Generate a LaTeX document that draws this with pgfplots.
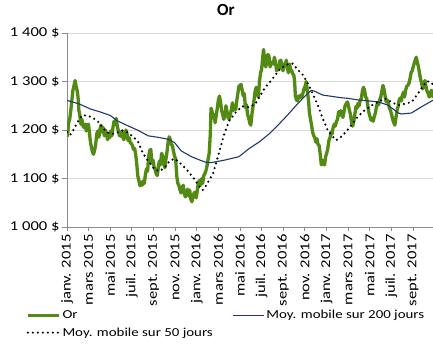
\documentclass[border=0pt]{standalone}
\usepackage{fontspec}
\setmainfont{Carlito}
\newfontfamily\widefont{Carlito}[FakeStretch=1.22]
\usepackage{pgfplots}
\pgfplotsset{compat=1.18}

\definecolor{orgreen}{RGB}{82,138,20}
\definecolor{ma200}{RGB}{31,56,110}
\definecolor{gridgray}{RGB}{217,217,217}
\definecolor{axisgray}{RGB}{140,140,140}
\newcommand\ticksz{\widefont\fontsize{13.6}{16}\selectfont}
\newcommand\legsz{\widefont\fontsize{12.2}{15}\selectfont}

% Gold price (x = months since 1 Jan 2015)
\pgfplotstableread{
m v
0.00 1186
0.08 1195
0.15 1215
0.25 1222
0.35 1240
0.45 1262
0.55 1282
0.65 1292
0.75 1302
0.85 1290
0.95 1280
1.02 1268
1.10 1240
1.18 1232
1.28 1212
1.38 1222
1.48 1208
1.58 1205
1.68 1212
1.78 1198
1.88 1210
1.98 1212
2.05 1200
2.15 1178
2.25 1165
2.35 1155
2.45 1150
2.55 1158
2.65 1170
2.75 1192
2.85 1198
2.95 1185
3.05 1202
3.15 1210
3.25 1196
3.35 1205
3.45 1188
3.55 1200
3.65 1192
3.75 1180
3.85 1192
3.95 1184
4.05 1198
4.15 1188
4.25 1205
4.35 1218
4.45 1212
4.55 1224
4.65 1208
4.75 1198
4.85 1188
4.95 1196
5.05 1186
5.15 1195
5.25 1180
5.35 1186
5.45 1200
5.55 1192
5.65 1178
5.75 1184
5.85 1174
5.95 1172
6.05 1168
6.15 1160
6.25 1162
6.35 1150
6.45 1130
6.55 1105
6.65 1095
6.75 1085
6.85 1092
6.95 1086
7.05 1095
7.15 1090
7.25 1108
7.35 1120
7.45 1115
7.55 1145
7.65 1158
7.75 1160
7.85 1132
7.95 1138
8.05 1125
8.15 1118
8.25 1110
8.35 1106
8.45 1124
8.55 1136
8.65 1128
8.75 1152
8.85 1146
8.95 1130
9.05 1122
9.15 1140
9.25 1155
9.35 1175
9.45 1186
9.55 1180
9.65 1170
9.75 1168
9.85 1156
9.95 1146
10.05 1140
10.15 1105
10.25 1090
10.35 1086
10.45 1076
10.55 1070
10.65 1082
10.75 1086
10.85 1070
10.95 1062
11.05 1068
11.15 1078
11.25 1064
11.35 1076
11.45 1058
11.55 1052
11.65 1062
11.75 1070
11.85 1072
11.95 1060
12.05 1075
12.15 1092
12.25 1096
12.35 1086
12.45 1100
12.55 1090
12.65 1106
12.75 1110
12.85 1116
12.95 1126
13.05 1140
13.15 1152
13.25 1190
13.32 1245
13.40 1240
13.50 1225
13.60 1232
13.70 1215
13.80 1230
13.90 1245
14.00 1262
14.10 1270
14.20 1258
14.30 1240
14.40 1232
14.50 1222
14.60 1230
14.70 1250
14.80 1238
14.90 1226
15.00 1222
15.10 1232
15.20 1242
15.30 1256
15.40 1240
15.50 1250
15.60 1242
15.70 1260
15.80 1275
15.90 1290
16.00 1292
16.10 1294
16.20 1282
16.30 1270
16.40 1275
16.50 1246
16.60 1252
16.70 1232
16.80 1225
16.90 1214
17.00 1210
17.10 1232
17.20 1248
17.30 1262
17.40 1280
17.50 1288
17.60 1275
17.70 1268
17.80 1300
17.90 1318
18.00 1325
18.10 1350
18.18 1366
18.28 1345
18.38 1330
18.48 1340
18.58 1356
18.68 1352
18.78 1330
18.88 1338
18.98 1340
19.08 1336
19.18 1350
19.28 1340
19.38 1322
19.48 1330
19.58 1324
19.68 1342
19.78 1344
19.88 1330
19.98 1322
20.08 1336
20.18 1334
20.28 1344
20.38 1328
20.48 1318
20.58 1336
20.68 1325
20.78 1322
20.88 1316
20.98 1313
21.05 1300
21.12 1270
21.22 1262
21.32 1260
21.42 1270
21.52 1266
21.62 1272
21.72 1268
21.82 1276
21.92 1285
22.02 1290
22.12 1300
22.22 1282
22.32 1265
22.42 1236
22.52 1222
22.62 1210
22.72 1195
22.82 1188
22.92 1184
23.02 1175
23.12 1182
23.22 1170
23.32 1168
23.42 1150
23.52 1128
23.62 1138
23.72 1132
23.82 1128
23.92 1145
24.02 1152
24.12 1162
24.22 1178
24.32 1184
24.42 1196
24.52 1192
24.62 1206
24.72 1212
24.82 1208
24.92 1218
25.02 1222
25.12 1238
25.22 1230
25.32 1240
25.42 1232
25.52 1226
25.62 1238
25.72 1250
25.82 1254
25.92 1258
26.02 1252
26.12 1240
26.22 1232
26.32 1215
26.42 1208
26.52 1218
26.62 1232
26.72 1248
26.82 1245
26.92 1255
27.02 1250
27.12 1262
27.22 1265
27.32 1280
27.42 1288
27.52 1282
27.62 1268
27.72 1265
27.82 1250
27.92 1236
28.02 1228
28.12 1220
28.22 1224
28.32 1218
28.42 1228
28.52 1235
28.62 1248
28.72 1256
28.82 1252
28.92 1262
29.02 1268
29.12 1280
29.22 1292
29.32 1284
29.42 1270
29.52 1258
29.62 1262
29.72 1255
29.82 1245
29.92 1240
30.02 1232
30.12 1222
30.22 1215
30.32 1210
30.42 1225
30.52 1240
30.62 1248
30.72 1262
30.82 1266
30.92 1260
31.02 1272
31.12 1278
31.22 1268
31.32 1282
31.42 1290
31.52 1292
31.62 1296
31.72 1305
31.82 1318
31.92 1322
32.02 1330
32.12 1338
32.22 1345
32.30 1350
32.40 1340
32.50 1330
32.60 1318
32.70 1305
32.80 1296
32.90 1285
33.00 1292
33.10 1302
33.20 1290
33.30 1280
33.40 1275
33.50 1268
33.60 1276
33.70 1282
33.80 1270
33.90 1268
}\gold

% 200-day moving average
\pgfplotstableread{
m v
0.00 1261
1.10 1254
2.20 1243
3.10 1237
4.00 1230
4.65 1219
5.60 1209
6.60 1199
7.50 1188
8.40 1185
9.35 1181
9.95 1174
10.56 1157
11.50 1145
12.40 1137
12.90 1133
13.40 1133
14.60 1138
15.90 1145
16.80 1161
17.75 1175
18.70 1192
19.60 1212
20.45 1232
21.20 1251
22.10 1272
22.60 1282
22.90 1280
23.65 1272
24.30 1270
25.20 1267
26.10 1265
26.90 1262
27.90 1260
28.80 1258
29.70 1251
30.65 1235
30.95 1233
31.85 1235
32.80 1248
33.90 1262
}\maA

% 50-day moving average
\pgfplotstableread{
m v
0.00 1196
0.30 1190
0.65 1202
0.96 1216
1.40 1230
1.85 1230
2.30 1226
2.80 1219
3.25 1206
3.70 1195
4.20 1192
4.65 1195
5.10 1199
5.60 1195
6.00 1188
6.55 1177
7.00 1153
7.50 1136
8.10 1119
8.55 1115
9.00 1122
9.50 1136
9.95 1141
10.60 1129
11.20 1115
11.80 1098
12.40 1078
12.55 1076
12.85 1085
13.50 1110
14.00 1148
14.50 1189
15.00 1219
15.60 1236
16.20 1249
16.80 1247
17.40 1253
17.85 1270
18.30 1287
18.80 1300
19.30 1314
19.75 1327
20.35 1335
20.85 1337
21.35 1324
21.80 1314
22.25 1297
22.70 1276
23.20 1251
23.65 1224
24.10 1200
24.60 1186
24.90 1179
25.35 1186
25.80 1196
26.30 1210
26.75 1224
27.20 1234
27.55 1241
28.20 1251
28.80 1258
29.40 1265
30.00 1258
30.60 1251
31.25 1254
31.90 1258
32.35 1272
32.80 1286
33.25 1300
33.55 1300
33.90 1293
}\maB

\begin{document}
\begin{tikzpicture}
\useasboundingbox (0,0) rectangle (433pt,344pt);
\begin{axis}[
  at={(67pt,117pt)}, anchor=south west,
  width=366pt, height=194pt, scale only axis,
  xmin=0, xmax=33.85, ymin=1000, ymax=1400,
  axis x line*=bottom, axis y line*=left,
  axis line style={axisgray, line width=0.9pt},
  ymajorgrids, grid style={gridgray, line width=0.9pt},
  ytick={1000,1100,1200,1300,1400},
  yticklabels={1 000 \$,1 100 \$,1 200 \$,1 300 \$,1 400 \$},
  xtick={0,2,...,32},
  xticklabels={janv. 2015,mars 2015,mai 2015,juil. 2015,sept. 2015,nov. 2015,
    janv. 2016,mars 2016,mai 2016,juil. 2016,sept. 2016,nov. 2016,
    janv. 2017,mars 2017,mai 2017,juil. 2017,sept. 2017},
  tick align=outside, major tick length=4.5pt,
  tick style={axisgray, line width=0.9pt},
  tick label style={font=\ticksz, text=black},
  xticklabel style={rotate=90, anchor=east, inner sep=0pt, outer xsep=3pt},
  yticklabel style={inner sep=0pt, outer xsep=3pt},
  title={Or},
  title style={font=\fontsize{17}{20}\selectfont\bfseries, at={(0.434,1.09)}, anchor=center},
  legend columns=2,
  legend style={at={(-0.112,-0.42)}, anchor=north west, draw=none, fill=none,
    font=\legsz, inner sep=0pt, row sep=4.5pt,
    nodes={inner sep=1.5pt},
    /tikz/every even column/.append style={column sep=18pt}},
  legend cell align=left,
  legend image code/.code={\draw[#1] (0pt,0pt) -- (31.5pt,0pt);},
]
\addplot[orgreen, line width=3.3pt, line join=round] table[x=m, y=v] {\gold};
\addlegendentry{Or}
\addplot[ma200, line width=1.1pt, line join=round] table[x=m, y=v] {\maA};
\addlegendentry{Moy. mobile sur 200 jours}
\addplot[black, line width=2.4pt, line cap=round, dash pattern=on 0pt off 5pt] table[x=m, y=v] {\maB};
\addlegendentry{Moy. mobile sur 50 jours}
\end{axis}
\end{tikzpicture}
\end{document}
